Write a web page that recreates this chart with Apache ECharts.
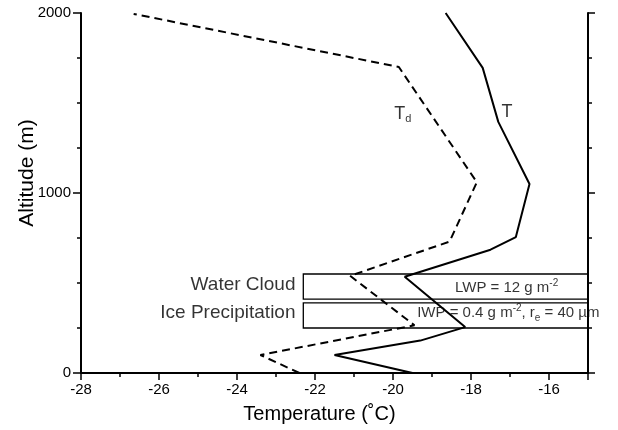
<!DOCTYPE html>
<html>
<head>
<meta charset="utf-8">
<script src="https://cdn.jsdelivr.net/npm/echarts@6/dist/echarts.min.js"></script>
<style>
html, body { margin: 0; padding: 0; background: #fff; }
#profile { width: 618px; height: 430px; }
</style>
</head>
<body>
<div id="profile"></div>
<script>
// temperature profile T (solid)
var tempT = [-19.5, -21.5, -19.3, -18.15, -19.7, -17.5, -16.85, -16.5, -17.3, -17.7, -18.65];
var altT  = [0, 100, 180, 255, 535, 685, 755, 1050, 1395, 1695, 2000];
// dew point profile Td (dashed)
var tempTd = [-22.4, -23.4, -19.45, -21.1, -18.55, -17.85, -19.85, -26.65];
var altTd  = [0, 100, 265, 540, 730, 1060, 1700, 1995];

// cloud layers: [T left, T right, alt bottom, alt top]
var waterCloud = [-22.3, -15, 410, 550];
var icePrecip  = [-22.3, -15, 250, 390];

// annotation texts and anchor points (data units)
var layerNames = ['Water Cloud', 'Ice Precipitation'];
var layerNameAt = [[-22.5, 490], [-22.5, 333]];
var pathTexts = ['{n|LWP = 12 g m}{sup|-2}', '{n|IWP = 0.4 g m}{sup|-2}{n|, r}{sub|e}{n| = 40 \u00b5m}'];
var pathTextAt = [[-18.41, 472], [-19.38, 333]];
var curveNames = ['{t|T}', '{t|T}{s|d}'];
var curveNameAt = [[-17.08, 1450], [-19.75, 1440]];

var xTicks = [-28, -26, -24, -22, -20, -18, -16];

var font = 'Liberation Sans, Arial, sans-serif';

function pairs(xs, ys) {
  var out = [];
  for (var i = 0; i < xs.length; i++) out.push([xs[i], ys[i]]);
  return out;
}

var chartDom = document.getElementById('profile');
var myChart = echarts.init(chartDom, null, { renderer: 'canvas' });
var option;

option = {
  animation: false,
  backgroundColor: '#fff',
  grid: { left: 81, right: 30, top: 13, bottom: 57, outerBoundsMode: 'none', containLabel: false },
  xAxis: [
    {
      type: 'value', min: -28, max: -15, interval: 2, position: 'bottom',
      splitLine: { show: false },
      axisLine: { lineStyle: { color: '#000', width: 2 } },
      axisTick: { length: 7, lineStyle: { color: '#000', width: 1.5 } },
      axisLabel: {
        color: '#000', fontSize: 15, fontFamily: font, margin: 9,
        formatter: function (v) { return xTicks.indexOf(v) >= 0 ? String(v) : ''; }
      },
      name: 'Temperature (\u02daC)', nameLocation: 'middle', nameGap: 31, nameMoveOverlap: false,
      nameTextStyle: { color: '#000', fontSize: 20, fontFamily: font, padding: [0, 30, 0, 0] }
    },
    {
      type: 'value', min: -28, max: -15, interval: 1, position: 'bottom',
      splitLine: { show: false },
      axisLine: { show: false },
      axisTick: { length: 4, lineStyle: { color: '#000', width: 1.5 } },
      axisLabel: { show: false }
    }
  ],
  yAxis: [
    {
      type: 'value', min: 0, max: 2000, interval: 1000, position: 'left',
      splitLine: { show: false },
      axisLine: { lineStyle: { color: '#000', width: 2 } },
      axisTick: { length: 8, lineStyle: { color: '#000', width: 1.5 } },
      minorTick: { show: true, splitNumber: 4, length: 4, lineStyle: { color: '#000', width: 1.5 } },
      axisLabel: {
        color: '#000', fontSize: 15, fontFamily: font, margin: 10,
        formatter: function (v) { return String(v); }
      },
      name: 'Altitude (m)', nameLocation: 'middle', nameGap: 43, nameMoveOverlap: false,
      nameTextStyle: { color: '#000', fontSize: 21, fontFamily: font, padding: [0, 0, 0, 40] }
    },
    {
      type: 'value', min: 0, max: 2000, interval: 1000, position: 'right',
      splitLine: { show: false },
      axisLine: { lineStyle: { color: '#000', width: 2 } },
      axisTick: { length: 7, lineStyle: { color: '#000', width: 1.5 } },
      minorTick: { show: true, splitNumber: 4, length: 4, lineStyle: { color: '#000', width: 1.5 } },
      axisLabel: { show: false }
    }
  ],
  series: [
    {
      name: 'T', type: 'line', symbol: 'none',
      lineStyle: { color: '#000', width: 2 },
      data: pairs(tempT, altT),
      markArea: {
        silent: true,
        itemStyle: { color: 'rgba(0,0,0,0)', borderColor: '#000', borderWidth: 1.3, opacity: 1 },
        data: [
          [{ coord: [waterCloud[0], waterCloud[3]] }, { coord: [waterCloud[1], waterCloud[2]] }],
          [{ coord: [icePrecip[0], icePrecip[3]] }, { coord: [icePrecip[1], icePrecip[2]] }]
        ]
      }
    },
    {
      name: 'Td', type: 'line', symbol: 'none',
      lineStyle: { color: '#000', width: 2, type: [8, 5] },
      data: pairs(tempTd, altTd)
    },
    {
      name: 'layers', type: 'scatter', symbolSize: 0, silent: true, clip: false,
      label: {
        show: true, position: 'left', distance: 0, color: '#000',
        fontSize: 19, fontFamily: font,
        formatter: function (p) { return layerNames[p.dataIndex]; }
      },
      data: layerNameAt
    },
    {
      name: 'paths', type: 'scatter', symbolSize: 0, silent: true, clip: false,
      label: {
        show: true, position: 'right', distance: 0,
        formatter: function (p) { return pathTexts[p.dataIndex]; },
        rich: {
          n: { fontSize: 15, fontFamily: font, color: '#000', lineHeight: 20 },
          sup: { fontSize: 10, fontFamily: font, color: '#000', verticalAlign: 'top', lineHeight: 14 },
          sub: { fontSize: 10, fontFamily: font, color: '#000', verticalAlign: 'bottom', lineHeight: 12 }
        }
      },
      data: pathTextAt
    },
    {
      name: 'curves', type: 'scatter', symbolSize: 0, silent: true, clip: false,
      label: {
        show: true, position: 'inside',
        formatter: function (p) { return curveNames[p.dataIndex]; },
        rich: {
          t: { fontSize: 18, fontFamily: font, color: '#000', lineHeight: 22 },
          s: { fontSize: 11, fontFamily: font, color: '#000', verticalAlign: 'bottom', lineHeight: 10 }
        }
      },
      data: curveNameAt
    }
  ]
};

option && myChart.setOption(option);
</script>
</body>
</html>
